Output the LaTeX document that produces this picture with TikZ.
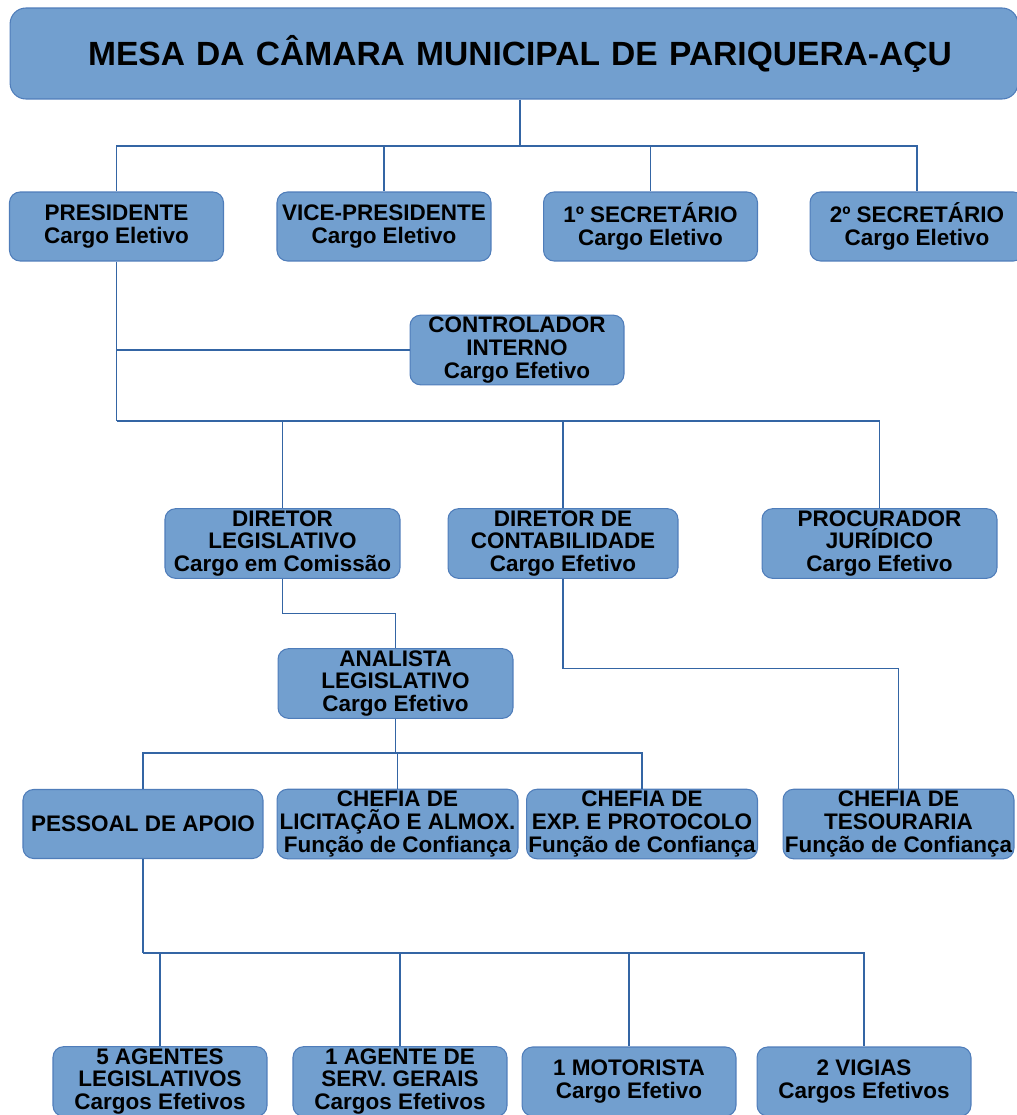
\documentclass[tikz,border=0pt]{standalone}
\usepackage{fontspec}
\setmainfont{Liberation Sans}
\usepackage{xcolor}
\usepackage{tikz}
\usetikzlibrary{positioning, calc}
\definecolor{boxblue}{HTML}{729FCF}
\definecolor{edgeblue}{HTML}{4F7DBA}
\definecolor{linkblue}{HTML}{3465A4}

\begin{document}
\begin{tikzpicture}[
        x=0.02cm, y=-0.02cm,
        box/.style={
            rectangle,
            rounded corners=6pt,
            draw=edgeblue,
            line width=0.6pt,
            fill=boxblue,
            text=black,
            font=\fontsize{12.8}{13}\selectfont\bfseries,
            minimum width=#1,
            minimum height=1.38cm,
            inner sep=1pt,
            align=center
        },
        box/.default=4.28cm,
        link/.style={linkblue, line width=0.6pt},
        trunk/.style={linkblue, line width=1pt}
    ]

    \useasboundingbox (0,0) rectangle (1017,1115);

    % Mesa
    \node[box=20.16cm, minimum height=1.82cm, rounded corners=9pt, text width=19.6cm, font=\fontsize{19.1}{19.1}\selectfont\bfseries] (mesa) at (514,53.5) {\hspace*{0.24cm}MESA DA CÂMARA MUNICIPAL DE PARIQUERA-AÇU};

    % Cargos eletivos
    \node[box] (pres) at (116.5,226.5) {PRESIDENTE\\Cargo Eletivo};
    \node[box] (vice) at (384,226.5) {VICE-PRESIDENTE\\Cargo Eletivo};
    \node[box] (sec1) at (650.5,226.5) {1º SECRETÁRIO\\Cargo Eletivo};
    \node[box] (sec2) at (917,226.5) {2º SECRETÁRIO\\Cargo Eletivo};

    % Controle interno
    \node[box] (ctrl) at (517,350) {CONTROLADOR\\INTERNO\\Cargo Efetivo};

    % Diretores
    \node[box=4.7cm] (dleg) at (282.5,543.5) {DIRETOR\\LEGISLATIVO\\Cargo em Comissão};
    \node[box=4.6cm] (dcont) at (563,543.5) {DIRETOR DE\\CONTABILIDADE\\Cargo Efetivo};
    \node[box=4.7cm] (proc) at (879.5,543.5) {PROCURADOR\\JURÍDICO\\Cargo Efetivo};

    \node[box=4.7cm] (anal) at (395.5,683.5) {ANALISTA\\LEGISLATIVO\\Cargo Efetivo};

    % Chefias
    \node[box=4.8cm] (pess) at (143,824) {PESSOAL DE APOIO};
    \node[box=4.82cm] (licit) at (397.5,824) {CHEFIA DE\\LICITAÇÃO E ALMOX.\\Função de Confiança};
    \node[box=4.6cm] (exp) at (642,824) {CHEFIA DE\\EXP. E PROTOCOLO\\Função de Confiança};
    \node[box=4.58cm] (tes) at (898.5,824) {CHEFIA DE\\TESOURARIA\\Função de Confiança};

    % Pessoal de apoio
    \node[box] (ag5) at (160,1081.5) {5 AGENTES\\LEGISLATIVOS\\Cargos Efetivos};
    \node[box] (ag1) at (400,1081.5) {1 AGENTE DE\\SERV. GERAIS\\Cargos Efetivos};
    \node[box] (mot) at (629,1081.5) {1 MOTORISTA\\Cargo Efetivo};
    \node[box] (vig) at (864,1081.5) {2 VIGIAS\\Cargos Efetivos};

    % Ligacoes
    \coordinate (b1) at (520,146);
    \draw[trunk] (mesa.south -| b1) -- (b1);
    \foreach \n in {pres, vice, sec1, sec2}
        \draw[link] (b1) -| (\n.north);

    \coordinate (b2) at ($(pres.south |- 0,421)$);
    \draw[trunk] (pres.south) -- (b2);
    \draw[link] (pres.south |- ctrl.west) -- (ctrl.west);
    \foreach \n in {dleg, dcont, proc}
        \draw[link] (b2) -| (\n.north);

    \draw[link] (dleg.south) -- ++(0,35) -| (anal.north);
    \draw[link] (dcont.south) -- ++(0,90) -| (tes.north);

    \coordinate (b3) at ($(anal.south |- 0,753)$);
    \draw[trunk] (anal.south) -- (b3);
    \foreach \n in {pess, licit, exp}
        \draw[link] (b3) -| (\n.north);

    \coordinate (b4) at ($(pess.south |- 0,953)$);
    \draw[trunk] (pess.south) -- (b4);
    \foreach \n in {ag5, ag1, mot, vig}
        \draw[link] (b4) -| (\n.north);

\end{tikzpicture}
\end{document}
